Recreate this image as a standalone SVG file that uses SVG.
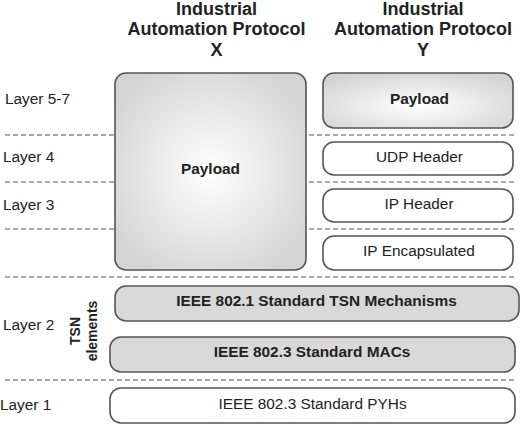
<svg xmlns="http://www.w3.org/2000/svg" width="520" height="425" viewBox="0 0 520 425">
<defs>
<radialGradient id="g1" cx="0.5" cy="0.5" r="0.6">
<stop offset="0" stop-color="#ffffff"/>
<stop offset="1" stop-color="#d4d4d4"/>
</radialGradient>
<radialGradient id="g2" cx="0.5" cy="0.6" r="0.65">
<stop offset="0" stop-color="#ffffff"/>
<stop offset="1" stop-color="#d4d4d4"/>
</radialGradient>
</defs>
<style>
.box{stroke:#555;stroke-width:1.6}
.dash{stroke:#555;stroke-width:1.2;stroke-dasharray:5 3;fill:none}
text{font-family:"Liberation Sans",Arial,sans-serif;fill:#222}
.t{font-size:18px;font-weight:bold;text-anchor:middle}
.lay{font-size:15.4px}
.b{font-size:15.4px;font-weight:bold;text-anchor:middle}
.r{font-size:15.4px;text-anchor:middle}
.tsn{font-size:14px;font-weight:bold;text-anchor:middle}
</style>
<g id="connectors">
<line class="dash" x1="5" y1="135" x2="516" y2="135"/>
<line class="dash" x1="5" y1="182" x2="516" y2="182"/>
<line class="dash" x1="5" y1="229" x2="516" y2="229"/>
<line class="dash" x1="5" y1="277" x2="516" y2="277"/>
<line class="dash" x1="5" y1="380" x2="516" y2="380"/>
</g>
<g id="titleX">
<text class="t" x="216.5" y="14.6">Industrial</text>
<text class="t" x="216.5" y="35">Automation Protocol</text>
<text class="t" x="216.5" y="55.5">X</text>
</g>
<g id="titleY">
<text class="t" x="423" y="14.6">Industrial</text>
<text class="t" x="423" y="35">Automation Protocol</text>
<text class="t" x="423" y="55.5">Y</text>
</g>
<g id="layers">
<text class="lay" x="5" y="104">Layer 5-7</text>
<text class="lay" x="3" y="162">Layer 4</text>
<text class="lay" x="3" y="210">Layer 3</text>
<text class="lay" x="3" y="330">Layer 2</text>
<text class="lay" x="0" y="410">Layer 1</text>
</g>
<g id="tsn">
<text class="tsn" transform="translate(80,331) rotate(-90)">TSN</text>
<text class="tsn" transform="translate(96.5,331) rotate(-90)">elements</text>
</g>
<g id="payloadX">
<rect class="box" x="115" y="73" width="191" height="197" rx="11" fill="url(#g1)"/>
<text class="b" x="210.5" y="173.5">Payload</text>
</g>
<g id="payloadY">
<rect class="box" x="323" y="73" width="190" height="55" rx="11" fill="url(#g2)"/>
<text class="b" x="419.5" y="103.5">Payload</text>
</g>
<g id="udp">
<rect class="box" x="323" y="142" width="190" height="33" rx="11" fill="#fff"/>
<text class="r" x="419.5" y="162">UDP Header</text>
</g>
<g id="ip">
<rect class="box" x="323" y="189" width="190" height="33" rx="11" fill="#fff"/>
<text class="r" x="419" y="209">IP Header</text>
</g>
<g id="ipenc">
<rect class="box" x="323" y="236" width="190" height="34" rx="11" fill="#fff"/>
<text class="r" x="419" y="256">IP Encapsulated</text>
</g>
<g id="tsnmech">
<rect class="box" x="115" y="286" width="404" height="35" rx="11" fill="#d9d9d9"/>
<text class="b" x="316.5" y="306">IEEE 802.1 Standard TSN Mechanisms</text>
</g>
<g id="macs">
<rect class="box" x="110" y="337" width="405" height="35" rx="11" fill="#d9d9d9"/>
<text class="b" x="312" y="357">IEEE 802.3 Standard MACs</text>
</g>
<g id="phys">
<rect class="box" x="110" y="388" width="405" height="35" rx="11" fill="#fff"/>
<text class="r" x="312.5" y="409">IEEE 802.3 Standard PYHs</text>
</g>
</svg>
